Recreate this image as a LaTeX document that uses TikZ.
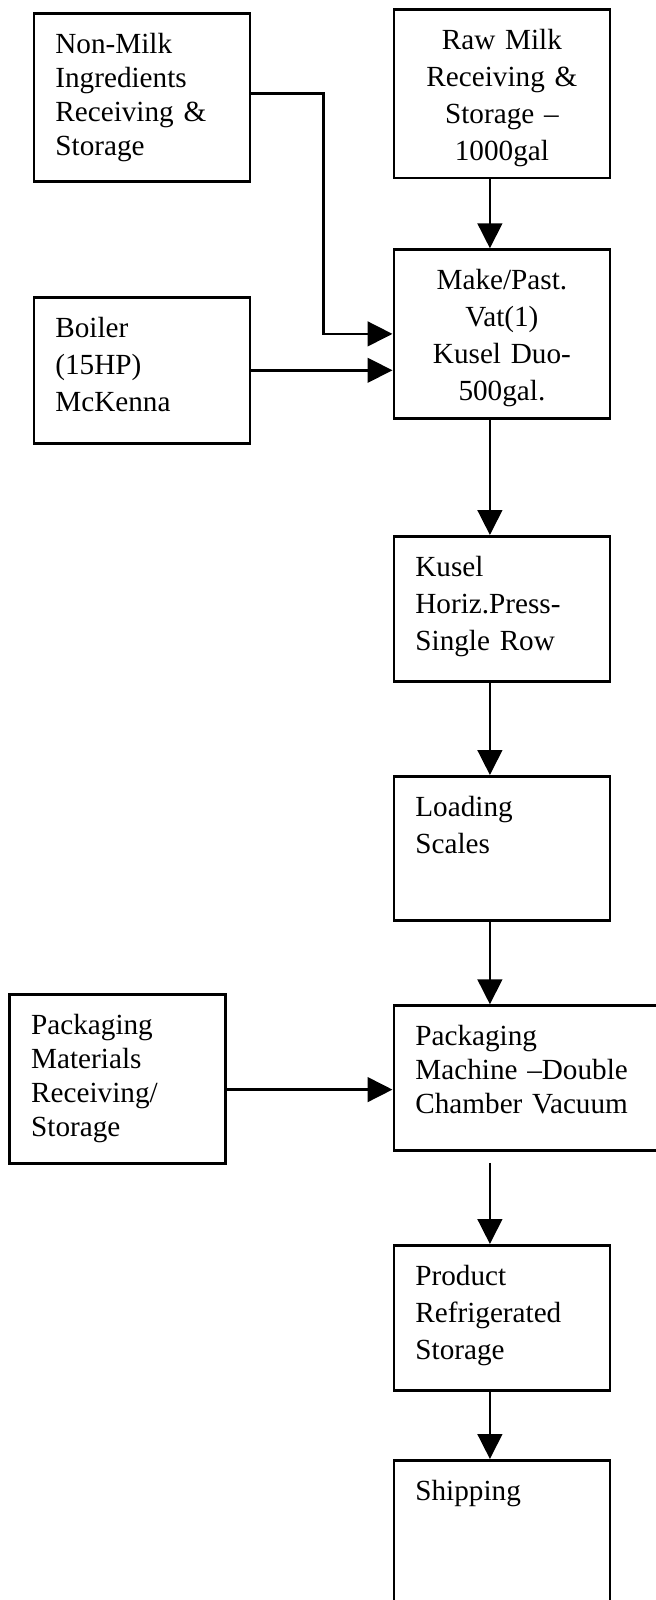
\documentclass[tikz,border=0pt]{standalone}
\usepackage{fontspec}
\setmainfont{Liberation Serif}
\usetikzlibrary{arrows.meta}

\begin{document}
\begin{tikzpicture}[
  x=0.5pt,y=-0.5pt,
  >={Triangle[length=12.5pt,width=12.3pt]},
  flow/.style={line width=1.4pt},
  box/.style={rectangle,draw,line width=1.4pt,anchor=north west,inner xsep=10.75pt,inner ysep=0pt,text width=86.5pt,align=left,text height=20pt,font=\fontsize{14.6pt}{18.5pt}\selectfont},
  tight/.style={font=\fontsize{14.6pt}{17pt}\selectfont}
]
\useasboundingbox (0,0) rectangle (655,1600);

% left column
\node[box,tight,text depth=63.75pt] (nonmilk) at (32.5,12.5) {Non-Milk\\Ingredients\\Receiving \&\\Storage};
\node[box,text depth=52.9pt] (boiler) at (32.5,296) {Boiler\\(15HP)\\McKenna};
\node[box,tight,text depth=64.5pt] (packmat) at (8.3,992.7) {Packaging\\Materials\\Receiving/\\Storage};

% main column
\node[box,align=center,text depth=64pt] (rawmilk) at (392.5,8.5) {Raw Milk\\Receiving \&\\Storage –\\1000gal};
\node[box,align=center,text depth=64.2pt] (make) at (392.5,248.3) {Make/Past.\\Vat(1)\\Kusel Duo-\\500gal.};
\node[box,text depth=52.5pt] (kusel) at (392.5,535) {Kusel\\Horiz.Press-\\Single Row};
\node[box,text depth=52.2pt] (loading) at (392.5,775) {Loading\\Scales};
\node[box,tight,text width=110pt,text depth=52.4pt] (packmach) at (392.5,1004.3) {Packaging\\Machine –Double\\Chamber Vacuum};
\node[box,text depth=52.5pt] (product) at (392.5,1244) {Product\\Refrigerated\\Storage};
\node[box,text depth=64pt] (shipping) at (392.5,1459) {Shipping};

% feeds
\draw[flow,->] ([yshift=2pt]nonmilk.east) -- ++(36pt,0) |- (make.west);
\draw[flow,->] (boiler.east) -- (make.west |- boiler.east);
\draw[flow,->] ([yshift=-5.5pt]packmat.east) -- ([yshift=-5.5pt]packmat.east -| packmach.west);

% flow down
\draw[flow,->] ([xshift=-6pt]rawmilk.south) -- ([xshift=-6pt]make.north);
\draw[flow,->] ([xshift=-6pt]make.south) -- ([xshift=-6pt]kusel.north);
\draw[flow,->] ([xshift=-6pt]kusel.south) -- ([xshift=-6pt]loading.north);
\draw[flow,->] ([xshift=-6pt]loading.south) -- ([xshift=-6pt]loading.south |- packmach.north);
\draw[flow,->] ([xshift=-6pt,yshift=-5.5pt]product.north |- packmach.south) -- ([xshift=-6pt]product.north);
\draw[flow,->] ([xshift=-6pt]product.south) -- ([xshift=-6pt]shipping.north);

\end{tikzpicture}
\end{document}
